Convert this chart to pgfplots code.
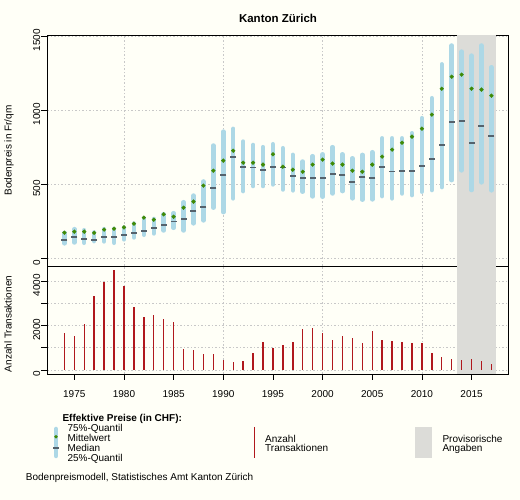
\documentclass[border=0pt]{standalone}
\usepackage{pgfplots}
\pgfplotsset{compat=1.18}
\usepackage{pgfplotstable}
\usepackage{fontspec}
\setmainfont{Liberation Sans}
\definecolor{bg}{HTML}{FFFFF7}
\definecolor{qblue}{HTML}{ADD8E6}
\definecolor{meangreen}{HTML}{3F8A06}
\definecolor{medgray}{HTML}{55626C}
\definecolor{transred}{HTML}{B0181D}
\definecolor{provgray}{HTML}{DCDCD8}
\definecolor{gridgray}{HTML}{C8C8C8}

\pgfplotstableread{
year q25 q75 mean median
1974 101 172 173 126
1975 107 197 180 146
1976 105 190 180 133
1977 116 175 172 126
1978 114 197 194 146
1979 105 199 200 146
1980 128 208 209 160
1981 141 235 234 173
1982 159 271 275 187
1983 168 266 261 207
1984 188 298 297 227
1985 206 305 281 248
1986 188 379 342 268
1987 236 424 383 322
1988 256 519 491 349
1989 342 762 592 477
1990 312 856 660 565
1991 405 875 727 687
1992 454 789 646 619
1993 488 766 646 613
1994 488 751 633 597
1995 499 771 703 619
1996 465 744 619 613
1997 459 699 599 558
1998 450 654 585 545
1999 418 690 633 545
2000 416 703 667 545
2001 438 751 640 572
2002 454 703 633 565
2003 405 676 592 518
2004 396 699 585 552
2005 398 717 633 545
2006 420 811 687 619
2007 405 811 734 586
2008 438 811 781 592
2009 427 845 822 592
2010 450 947 876 626
2011 461 1082 971 673
2012 481 1311 1146 768
2013 528 1438 1227 923
2014 594 1397 1241 930
2015 461 1370 1146 781
2016 513 1438 1140 896
2017 459 1291 1099 826
}\prices

\pgfplotstableread{
year n
1974 1669
1975 1534
1976 2075
1977 3339
1978 3970
1979 4511
1980 3790
1981 2842
1982 2391
1983 2481
1984 2301
1985 2165
1986 947
1987 902
1988 722
1989 722
1990 451
1991 361
1992 406
1993 767
1994 1263
1995 993
1996 1128
1997 1278
1998 1850
1999 1910
2000 1684
2001 1354
2002 1534
2003 1444
2004 1218
2005 1760
2006 1354
2007 1308
2008 1263
2009 1218
2010 1218
2011 767
2012 587
2013 496
2014 451
2015 496
2016 406
2017 271
}\trans

\pgfplotsset{
  common/.style={
    scale only axis, width=461.5pt,
    xmin=1972.28, xmax=2018.75,
    axis background/.style={fill=bg},
    tick align=outside, major tick length=6pt,
    tick style={black, line width=0.8pt},
    axis line style={line width=0.8pt},
    /pgf/number format/assume math mode=true,
    /pgf/number format/1000 sep={},
    scaled ticks=false,
    ticklabel style={font=\fontsize{10}{12}\selectfont},
    yticklabel style={rotate=90, anchor=south, inner sep=1pt, xshift=-4pt},
    xticklabel style={yshift=-7pt},
    grid style={gridgray, line width=0.8pt, dash pattern=on 1.5pt off 2pt},
    ytick pos=left,
  }
}

\begin{document}
\begin{tikzpicture}[x=1pt,y=1pt]
\useasboundingbox (0,0) rectangle (520,500);
\fill[bg] (0,0) rectangle (520,500);

% top panel
\begin{axis}[common, at={(47.3pt,234pt)}, anchor=south west, height=231pt,
  ymin=-52, ymax=1509, ytick={0,500,1000,1500}, ymajorgrids,
  xtick={1980,1990,2000,2010}, xticklabels={}, xmajorgrids,
  xtick style={draw=none}]
\addplot[fill=provgray, draw=none, forget plot] coordinates {(2013.5,-52) (2017.5,-52) (2017.5,1509) (2013.5,1509)};
\addplot[draw=none, mark=none, forget plot,
  error bars/.cd, y dir=both, y explicit, error mark=none,
  error bar style={line width=4.5pt, draw=qblue, line cap=round}]
  table[x=year, y=median, y error plus expr=\thisrow{q75}-\thisrow{median}, y error minus expr=\thisrow{median}-\thisrow{q25}] {\prices};
\addplot[draw=none, mark=-, mark size=3pt, mark options={line width=1.8pt, draw=medgray, solid}] table[x=year, y=median] {\prices};
\addplot[draw=none, mark=*, mark size=1.9pt, mark options={draw=meangreen, fill=meangreen, solid}] table[x=year, y=mean] {\prices};
\end{axis}

% bottom panel
\begin{axis}[common, at={(47.3pt,126pt)}, anchor=south west, height=108pt,
  ymin=-180, ymax=4689, ytick={0,1000,2000,3000,4000}, yticklabels={0,,2000,,4000}, ymajorgrids,
  xtick={1975,1980,...,2015}, xtick pos=bottom,
  extra x ticks={1980,1990,2000,2010}, extra x tick labels={}, extra x tick style={grid=major}]
\addplot[fill=provgray, draw=none, forget plot] coordinates {(2013.5,-180) (2017.5,-180) (2017.5,4689) (2013.5,4689)};
\addplot[ycomb, draw=transred, line width=1.4pt, mark=none] table[x=year, y=n] {\trans};
\end{axis}

% title and axis labels
\node[anchor=base, font=\bfseries\fontsize{11.5}{13}\selectfont, inner sep=0] at (278,477.3) {Kanton Zürich};
\node[rotate=90, anchor=base, font=\fontsize{10}{12}\selectfont, inner sep=0] at (11.7,349.5) {Bodenpreis in Fr/qm};
\node[rotate=90, anchor=base, font=\fontsize{10}{12}\selectfont, inner sep=0] at (11.7,176) {Anzahl Transaktionen};

% legend
\begin{scope}[every node/.style={anchor=base west, inner sep=0, font=\fontsize{10}{12}\selectfont}]
\node[font=\bfseries\fontsize{10}{12}\selectfont] at (62.3,78.5) {Effektive Preise (in CHF):};
\draw[qblue, line width=4.5pt, line cap=round] (56,71) -- (56,44);
\fill[meangreen] (56,63.3) circle (1.9);
\draw[medgray, line width=1.8pt] (53,51.7) -- (59,51.7);
\node at (67.3,68.4) {75\%-Quantil};
\node at (67.3,58.5) {Mittelwert};
\node at (67.3,48.6) {Median};
\node at (67.3,38.7) {25\%-Quantil};
\draw[transred, line width=1.4pt] (254.3,73) -- (254.3,42);
\node at (265,57.5) {Anzahl};
\node at (265,48.3) {Transaktionen};
\fill[provgray] (415,41.7) rectangle (431.7,72.7);
\node at (442.3,57.5) {Provisorische};
\node at (442.3,48.3) {Angaben};
\node at (25.7,19) {Bodenpreismodell, Statistisches Amt Kanton Zürich};
\end{scope}
\end{tikzpicture}
\end{document}
